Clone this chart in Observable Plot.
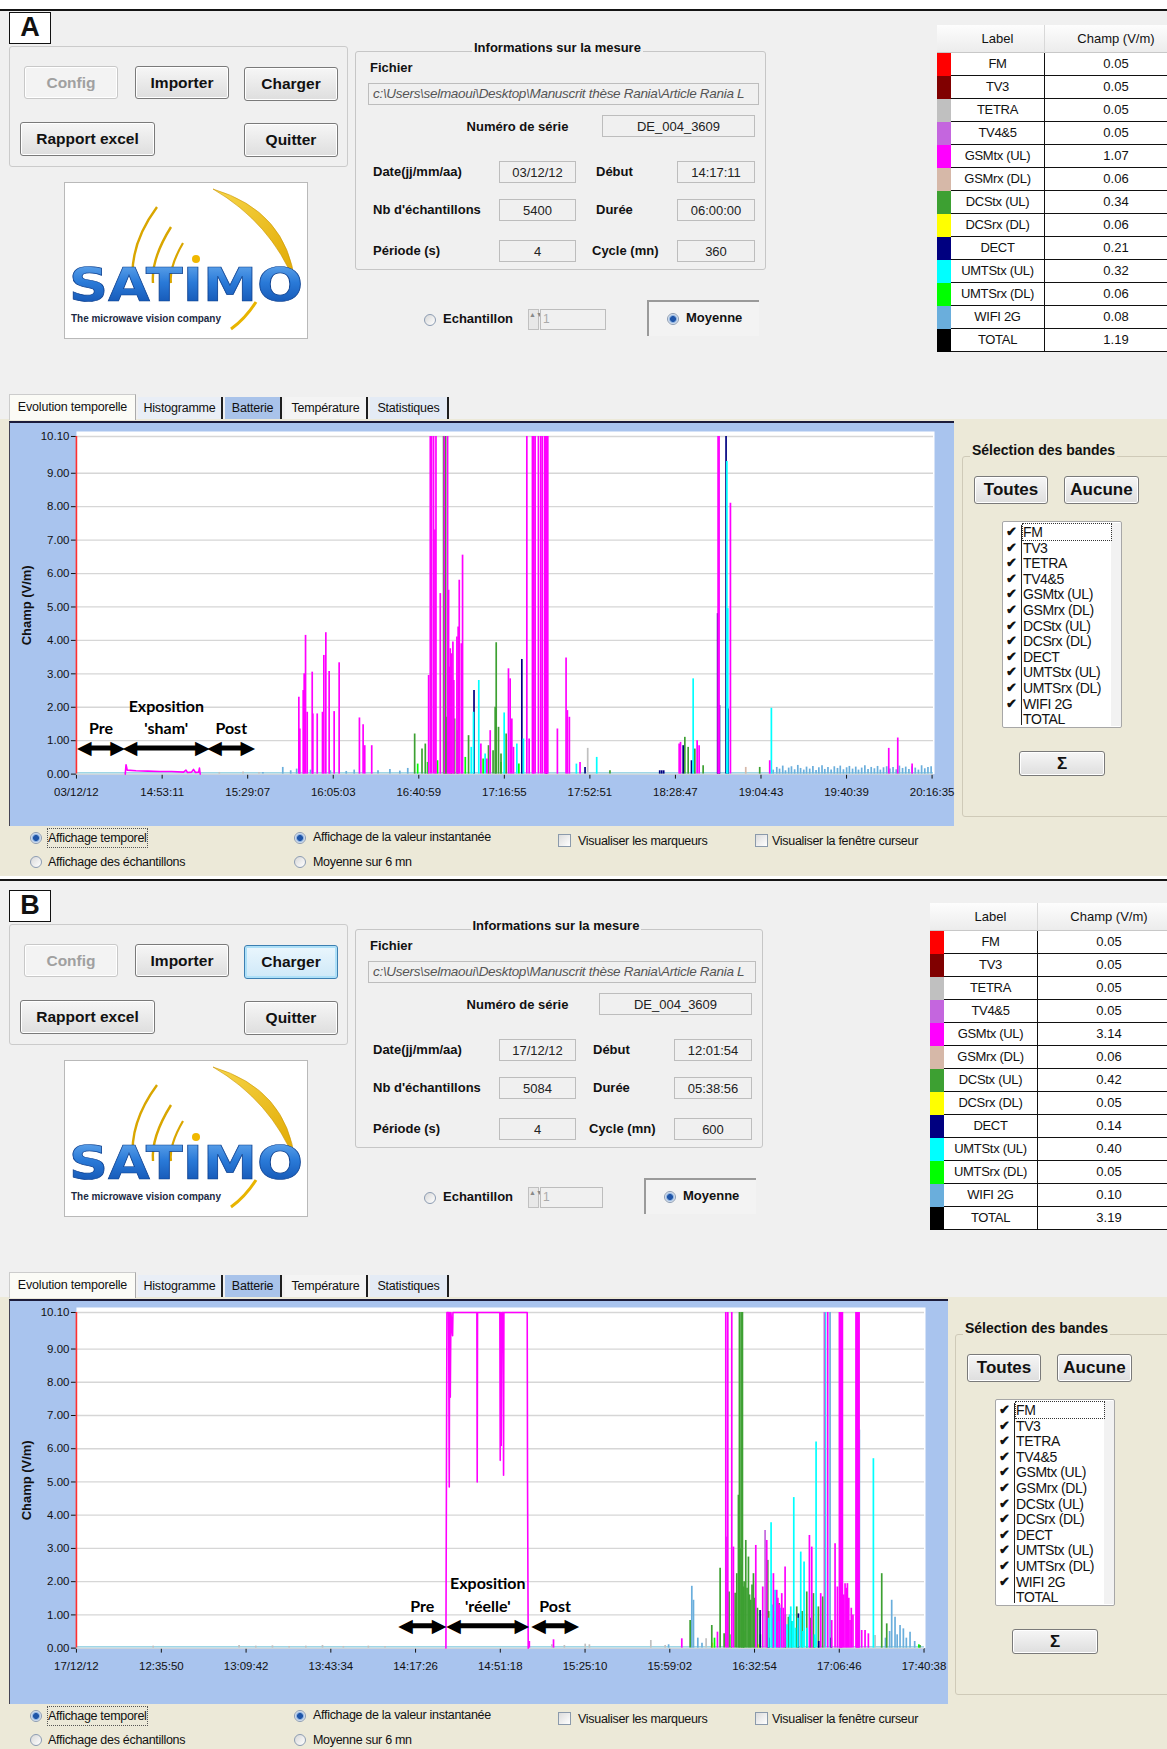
<!DOCTYPE html>
<html><head><meta charset="utf-8">
<script src="https://cdn.jsdelivr.net/npm/d3@7"></script>
<script src="https://cdn.jsdelivr.net/npm/@observablehq/plot@0.6"></script>
<style>
body{margin:0;background:#fff;font-family:"Liberation Sans",Arial,sans-serif;color:#111;}
#root{position:relative;width:1167px;height:1749px;overflow:hidden;background:#fff;}
.abs{position:absolute;box-sizing:border-box;white-space:nowrap;}
.btn{border:1px solid #7a7a7a;border-radius:3px;background:linear-gradient(#f6f6f6,#dedede);font-weight:bold;font-size:15.5px;display:flex;align-items:center;justify-content:center;color:#111;box-shadow:inset 0 0 0 1px #fff;}
.fld{border:1px solid #bdbdbd;background:#f0f0f0;font-size:13px;display:flex;align-items:center;justify-content:center;color:#222;}
.lbl{font-weight:bold;font-size:13px;}
</style>
</head><body><div id="root"></div>
<script>
// ---------- data ----------
const bandKeys   = ["FM","TV3","TETRA","TV45","GSMtx","GSMrx","DCStx","DCSrx","DECT","UMTStx","UMTSrx","WIFI","TOTAL"];
const bandLabels = ["FM","TV3","TETRA","TV4&5","GSMtx (UL)","GSMrx (DL)","DCStx (UL)","DCSrx (DL)","DECT","UMTStx (UL)","UMTSrx (DL)","WIFI 2G","TOTAL"];
const bandColors = ["#ff0000","#800000","#c0c0c0","#c466de","#ff00ff","#d6b8a8","#3da032","#ffff00","#000080","#00ffff","#00ff00","#6aaedc","#000000"];
const champA = ["0.05","0.05","0.05","0.05","1.07","0.06","0.34","0.06","0.21","0.32","0.06","0.08","1.19"];
const champB = ["0.05","0.05","0.05","0.05","3.14","0.06","0.42","0.05","0.14","0.40","0.05","0.10","3.19"];

const fieldLabels = ["Date(jj/mm/aa)","Début","Nb d'échantillons","Durée","Période (s)","Cycle (mn)"];
const fieldsA = ["03/12/12","14:17:11","5400","06:00:00","4","360"];
const fieldsB = ["17/12/12","12:01:54","5084","05:38:56","4","600"];
const serialNo = "DE_004_3609";
const filePath = "c:\\Users\\selmaoui\\Desktop\\Manuscrit thèse Rania\\Article Rania L";

const tickLabelsA = ["03/12/12","14:53:11","15:29:07","16:05:03","16:40:59","17:16:55","17:52:51","18:28:47","19:04:43","19:40:39","20:16:35"];
const tickLabelsB = ["17/12/12","12:35:50","13:09:42","13:43:34","14:17:26","14:51:18","15:25:10","15:59:02","16:32:54","17:06:46","17:40:38"];
const yTicks = [0,1,2,3,4,5,6,7,8,9,10.1];

// spikes: [seconds since start, V/m]
const gsmtxA = [[5605,2.3],[5630,1.35],[5715,2.5],[5740,3.0],[5774,4.15],[5816,1.85],[5942,3.05],[5958,1.8],[6068,1.8],[6201,1.85],[6235,3.55],[6285,4.23],[6369,3.07],[6495,1.87],[6621,3.33],[7132,1.68],[7225,1.48],[7266,0.85],[7442,0.85],[8876,2.95],[8918,10.1],[8951,10.1],[9001,10.1],[9036,7.3],[9061,10.1],[9170,5.4],[9270,10.1],[9354,10.1],[9379,5.5],[9400,3.2],[9421,3.75],[9450,3.6],[9488,3.95],[9510,2.8],[9589,4.1],[9620,4.4],[9648,5.8],[9700,3.9],[9731,6.55],[10193,0.9],[10344,0.45],[10428,1.3],[10888,3.15],[10931,2.85],[10973,1.65],[11014,0.8],[11351,10.1],[11409,1.05],[11492,10.1],[11510,10.1],[11527,10.1],[11560,10.1],[11643,10.1],[11703,10.1],[11744,10.1],[11804,10.1],[11820,10.1],[11837,10.1],[11858,10.1],[11879,10.1],[12121,1.35],[12340,3.47],[12373,1.9],[12423,1.7],[12692,0.35],[15190,0.9],[15224,0.95],[15643,1.0],[15693,0.85],[16171,10.1],[16196,10.1],[16482,8.1],[17472,0.4],[20472,0.77],[20699,1.08],[21061,0.3]];
const dcstxA = [[8524,1.2],[8709,0.75],[8792,0.9],[9253,10.1],[9287,10.1],[9304,10.1],[9330,1.7],[9450,1.6],[9530,1.65],[9600,1.3],[9882,1.15],[10385,0.85],[10500,0.7],[10553,2.0],[10579,3.93],[10637,1.4],[10700,0.6],[10830,1.2],[13446,0.1],[15333,1.1],[15417,0.8],[15585,0.75],[15794,0.25],[17220,0.2]];
const umtsrxA = [[8600,0.3],[8850,0.35],[9100,0.4],[9800,0.5],[10250,0.45],[10700,0.35],[11150,0.3]];
const umtstxA = [[9950,0.8],[10007,1.85],[10140,2.8],[10300,0.6],[10780,1.83],[11099,0.9],[11266,1.05],[12600,0.3],[13112,0.5],[15543,2.85],[16392,9.35],[16415,4.95],[17514,1.97]];
const dectA = [[10020,2.5],[11225,3.43],[11845,1.9],[12818,0.2],[14700,0.1],[14750,0.1],[14800,0.1],[15291,0.85],[15501,0.4],[16160,4.8],[16205,2.05],[16372,10.1],[16425,1.95]];
const tetraA = [[3600,0.05],[4200,0.06],[4600,0.05],[12885,0.77]];
const gsmrxA = [[16868,0.2]];
const wifiA = [[4700,0.05],[5200,0.2],[5400,0.1],[5550,0.15],[5900,0.12],[6400,0.1],[6800,0.08],[7000,0.12],[7600,0.1],[7900,0.14],[8150,0.09],[8350,0.17],[17560,0.12],[17650,0.2],[17720,0.15],[17800,0.24],[17870,0.1],[17950,0.18],[18020,0.22],[18100,0.13],[18180,0.26],[18250,0.17],[18330,0.12],[18400,0.21],[18480,0.15],[18560,0.23],[18640,0.11],[18710,0.19],[18790,0.25],[18860,0.14],[18940,0.2],[19020,0.12],[19100,0.22],[19180,0.17],[19250,0.24],[19330,0.13],[19410,0.19],[19480,0.23],[19560,0.15],[19640,0.21],[19710,0.12],[19790,0.18],[19870,0.25],[19950,0.14],[20030,0.2],[20110,0.16],[20190,0.23],[20260,0.12],[20340,0.19],[20420,0.22],[20500,0.15],[20580,0.2],[20660,0.13],[20740,0.24],[20820,0.17],[20900,0.21],[20980,0.14],[21060,0.22],[21140,0.18],[21220,0.12],[21300,0.25],[21380,0.16],[21460,0.2],[21540,0.22]];
const shamA = [[1230,0],[1250,0.28],[1280,0.12],[1500,0.1],[1800,0.09],[2100,0.08],[2400,0.08],[2700,0.06],[2760,0.12],[2800,0.05],[2900,0.06],[2950,0.14],[3000,0.05],[3080,0.06],[3100,0.18],[3120,0]];

const gsmtxB = [[10860,0.2],[11440,0.25],[14516,0.28],[15371,0.48],[15571,10.1],[15619,10.1],[15714,10.1],[15754,3.04],[16290,3.09],[16457,1.84],[16553,3.24],[16713,2.24],[16793,1.74],[16820,1.5],[16860,1.3],[16913,1.64],[16950,1.2],[16993,2.44],[17576,3.39],[17632,3.04],[17847,1.64],[18015,10.1],[18111,0.83],[18191,3.14],[18247,1.84],[18295,10.1],[18307,10.1],[18319,10.1],[18331,10.1],[18343,10.1],[18355,10.1],[18367,10.1],[18400,1.6],[18431,1.94],[18460,1.8],[18487,1.94],[18520,1.5],[18550,0.83],[18580,1.2],[18620,1.0],[18694,10.1],[18706,10.1],[18718,10.1],[18730,10.1],[18742,10.1],[18754,10.1],[18766,10.1],[18830,0.53],[18910,0.53],[18990,0.43]];
const tv45B = [[15595,3.34],[16513,3.54],[17935,10.1]];
const dcstxB = [[14716,0.83],[15235,0.68],[15435,2.4],[15531,0.43],[15650,1.69],[15794,1.65],[15834,2.24],[15874,4.6],[15898,10.1],[15910,3.0],[15938,10.1],[15955,2.5],[15970,10.1],[15994,1.84],[16010,2.0],[16050,3.24],[16080,1.8],[16114,2.74],[16140,1.6],[16170,1.44],[16200,1.9],[16234,2.24],[16260,1.5],[16330,1.2],[16577,2.64],[16600,1.1],[16700,0.9],[16849,1.34],[17000,1.0],[17073,0.93],[17150,0.8],[17272,1.24],[17400,1.1],[17512,1.69],[17600,0.9],[17672,1.64],[17791,1.24],[17895,1.54],[19310,2.24],[19430,0.73],[20228,0.08]];
const umtstxB = [[16600,0.9],[16657,3.77],[16680,1.3],[16720,1.1],[16753,1.74],[16780,1.0],[16830,0.8],[16880,1.2],[16960,0.9],[17040,0.7],[17100,1.0],[17129,1.24],[17170,0.8],[17201,4.53],[17240,0.6],[17300,0.9],[17368,2.89],[17420,0.5],[17448,2.59],[17520,0.6],[17700,0.4],[17736,6.2],[17959,10.1],[19110,5.7]];
const dectB = [[16393,1.13],[16600,0.3],[17312,1.03],[17800,0.2],[18100,0.3]];
const wifiB = [[14200,0.1],[14756,1.86],[14796,1.44],[14900,0.3],[15000,0.15],[18071,10.1],[18774,6.56],[19400,0.3],[19500,0.5],[19549,1.44],[19629,0.93],[19680,0.4],[19749,0.68],[19829,0.58],[19900,0.3],[19989,0.48],[20100,0.2]];
const tetraB = [[1840,0.06],[3900,0.08],[4300,0.06],[4700,0.07],[5100,0.05],[5500,0.06],[5900,0.08],[6400,0.05],[7000,0.06],[7400,0.05],[11400,0.1],[11700,0.08],[12200,0.12],[12300,0.1],[13773,0.23],[14117,0.08],[15099,0.28],[19150,0.38]];
const umtsrxB = [[15300,0.3],[15700,0.4],[16000,0.5],[16400,0.4],[17000,0.3],[17700,0.3],[20200,0.1]];
const dcsrxB = [[15250,0.15],[16350,0.1]];
const expoB = [[8860,0],[8884,10.1],[8924,10.1],[8940,4.85],[8948,10.1],[8964,7.55],[8980,10.1],[9020,9.4],[9028,10.1],[9602,10.1],[9610,5.0],[9618,10.1],[10153,10.1],[10162,5.65],[10170,10.1],[10186,6.1],[10202,10.1],[10234,10.1],[10242,5.2],[10250,10.1],[10809,10.1],[10817,4.97],[10833,0]];

const periodsA = [{label:"Pre",t1:63,t2:1170},{label:"Exposition\n'sham'",t1:1220,t2:3308},{label:"Post",t1:3349,t2:4455}];
const periodsB = [{label:"Pre",t1:7765,t2:8820},{label:"Exposition\n'réelle'",t1:8916,t2:10809},{label:"Post",t1:10953,t2:12007}];

// ---------- helpers ----------
const root = document.getElementById("root");
function add(x,y,w,h,css="",text=null,parent=root){
  const d=document.createElement("div");d.className="abs";
  d.style.cssText=`left:${x}px;top:${y}px;`+(w!=null?`width:${w}px;`:"")+(h!=null?`height:${h}px;`:"")+css;
  if(text!=null)d.textContent=text;parent.appendChild(d);return d;
}
function lbl(x,yc,text,css="",parent=root){return add(x,yc-9,null,18,"line-height:18px;"+css,text,parent);}
function toSec(s){const p=s.split(":").map(Number);return p[0]*3600+p[1]*60+p[2];}
function radio(x,yc,on){add(x-6,yc-6,12,12,"border-radius:50%;border:1px solid #8c9cb2;background:"+(on?"radial-gradient(circle,#1f55a8 0 2.6px,#7fa6d8 3.2px,#eef3fa 5px)":"linear-gradient(135deg,#d8d8d8,#fff)"));}
function checkbox(x,yc){add(x,yc-7,13,13,"border:1px solid #8b9aab;background:linear-gradient(135deg,#dcdcdc,#fff)");}

function drawChart(cfg){
  const ticks=cfg.tickLabels.map((l,i)=>i===0?0:toSec(l)-toSec(cfg.start));
  const spikes=[];
  for(const [key,arr] of cfg.spikeSets) for(const [t,v] of arr) spikes.push({t,v,band:key});
  const av=cfg.arrowV;
  return Plot.plot({
    width:cfg.width,height:405,
    marginLeft:67,marginRight:cfg.mr,marginTop:cfg.mt,marginBottom:cfg.mb,
    style:{background:"transparent",fontFamily:"'Liberation Sans',Arial,sans-serif",fontSize:"11.5px",color:"#111",overflow:"visible"},
    x:{domain:[0,cfg.duration],ticks,tickFormat:d=>cfg.tickLabels[ticks.indexOf(d)],tickSize:5,tickPadding:9,label:null},
    y:{domain:[0,10.1],ticks:yTicks,tickFormat:d=>d.toFixed(2),tickSize:5,tickPadding:2,label:null},
    color:{domain:bandKeys,range:bandColors},
    marks:[
      Plot.frame({fill:"white",stroke:"none",insetTop:-5,insetRight:-1}),
      Plot.ruleY(yTicks,{stroke:"#d6d6d6",strokeWidth:1.3}),
      Plot.ruleY([0.04],{stroke:"#9fd6e6",strokeWidth:1.6}),
      Plot.ruleX(spikes,{x:"t",y1:()=>0,y2:"v",stroke:"band",strokeWidth:1.7}),
      ...cfg.lines.map(([key,arr])=>Plot.line(arr,{x:d=>d[0],y:d=>d[1],stroke:()=>key,strokeWidth:1.6})),
      Plot.ruleX([0],{stroke:"#ff3030",strokeWidth:1.6}),
      Plot.arrow(cfg.periods,{x1:"t1",x2:"t2",y1:()=>av,y2:()=>av,headLength:0,insetStart:9,insetEnd:9,strokeWidth:5,stroke:"black"}),
      Plot.text(cfg.periods,{x:"t1",y:()=>av,text:()=>"◀",textAnchor:"start",fontSize:19,dx:-2,fill:"black",fontFamily:"DejaVu Sans"}),
      Plot.text(cfg.periods,{x:"t2",y:()=>av,text:()=>"▶",textAnchor:"end",fontSize:19,dx:2,fill:"black",fontFamily:"DejaVu Sans"}),
      Plot.text(cfg.periods,{x:d=>(d.t1+d.t2)/2,y:()=>av,text:"label",lineAnchor:"bottom",dy:-14,fontSize:16,fontWeight:"bold",fontFamily:"Lato",lineHeight:1.4,fill:"black"}),
      Plot.text(["Champ (V/m)"],{frameAnchor:"left",text:d=>d,rotate:-90,dx:-50,textAnchor:"middle",fontWeight:"bold",fontSize:13,fill:"#111"})
    ]
  });
}

function logo(x,y){
  const d=add(x,y,244,157,"background:#fff;border:1px solid #b9b9b9");
  d.innerHTML=`<svg width="242" height="155" viewBox="0 0 242 155">
  <defs><linearGradient id="lg${y}" x1="0" y1="0" x2="0" y2="1"><stop offset="0" stop-color="#6fb0f0"/><stop offset="0.45" stop-color="#2a7ad8"/><stop offset="1" stop-color="#0d4aa8"/></linearGradient>
  <linearGradient id="yg${y}" x1="0" y1="0" x2="1" y2="1"><stop offset="0" stop-color="#f7d64a"/><stop offset="1" stop-color="#e0a800"/></linearGradient></defs>
  <path d="M148,6 Q222,28 230,100 Q206,40 148,6Z" fill="url(#yg${y})" stroke="#c99400" stroke-width="0.6"/>
  <path d="M92,24 Q64,62 68,100" fill="none" stroke="#d9a600" stroke-width="2.4"/>
  <path d="M106,44 Q86,76 88,100" fill="none" stroke="#d9a600" stroke-width="2.4"/>
  <path d="M118,60 Q104,84 106,100" fill="none" stroke="#d9a600" stroke-width="2.2"/>
  <circle cx="131" cy="76" r="4" fill="#f0b800"/>
  <text x="4" y="118" font-family="DejaVu Sans" font-weight="bold" font-size="46" textLength="234" lengthAdjust="spacingAndGlyphs" fill="url(#lg${y})" stroke="#0b3f8f" stroke-width="0.7">SATIMO</text>
  <path d="M166,146 Q180,136 191,119" fill="none" stroke="#e8b400" stroke-width="3"/>
  <text x="6" y="139" font-family="Liberation Sans" font-weight="bold" font-size="11" textLength="150" lengthAdjust="spacingAndGlyphs" fill="#1c2a44">The microwave vision company</text>
  </svg>`;
}

function buildPanel(oy,P){
  const Y=v=>oy+v, dx=P.dx, di=Math.round(P.dx/2);
  add(0,Y(P.lineRel+2),1167,419-(P.lineRel+2),"background:#f0f0f0");
  add(0,Y(419),1167,457,"background:#ece9d8");
  add(0,Y(P.lineRel),1167,2,"background:#151515");
  add(9,Y(12),42,32,"border:1.5px solid #111;background:#fff;font:bold 27px 'Liberation Sans';text-align:center;line-height:29px",P.letter);
  add(9,Y(46),339,121,"border:1px solid #cbcbcb;border-radius:3px");
  const names=[["Config",24,66,94,33],["Importer",135,66,94,33],["Charger",244,67,94,34],["Rapport excel",20,122,135,34],["Quitter",244,123,94,34]];
  names.forEach(([n,x,y,w,h],i)=>{const b=add(x,Y(y),w,h,"",n);b.className="abs btn";
    if(i===0){b.style.color="#a0a0a0";b.style.borderColor="#c8c8c8";b.style.background="#f3f3f3";}
    if(i===2&&P.chargerFocus){b.style.borderColor="#3c7fb1";b.style.boxShadow="inset 0 0 0 2px #aee0f8";b.style.background="linear-gradient(#eaf6fd,#cfe9f8)";}});
  logo(64,Y(182));
  add(355,Y(51),411+di,219,"border:1px solid #c6c6c6;border-radius:3px");
  lbl(472+di/2,Y(48),"Informations sur la mesure","background:#f0f0f0;padding:0 2px;").className="abs lbl";
  lbl(370,Y(68),"Fichier").className="abs lbl";
  add(368,Y(83),391+di,22,"border:1px solid #bdbdbd;background:#f0f0f0;font-style:italic;font-size:13.5px;color:#555;line-height:20px;padding-left:4px;overflow:hidden;letter-spacing:-0.3px",filePath);
  const ns=lbl(440,Y(127),"Numéro de série","width:155px;text-align:center");ns.className="abs lbl";
  add(602+di,Y(115),153,22,"",serialNo).className="abs fld";
  const rows=[172,210,251];
  rows.forEach((yc,r)=>{
    lbl(373,Y(yc),fieldLabels[2*r]).className="abs lbl";
    add(499,Y(yc-11),77,22,"",P.fields[2*r]).className="abs fld";
    lbl(r===2?592+di:596+di,Y(yc),fieldLabels[2*r+1]).className="abs lbl";
    add(677+di,Y(yc-11),78,22,"",P.fields[2*r+1]).className="abs fld";
  });
  radio(430,Y(320),false);
  lbl(443,Y(319),"Echantillon").className="abs lbl";
  add(528,Y(309),11,21,"border:1px solid #c0c0c0;background:#e8e8e8;font-size:7px;line-height:10px;text-align:center;color:#888","▲▼");
  add(540,Y(309),66+di,21,"border:1px solid #bdbdbd;background:#f0f0f0;font-size:12px;color:#aaa;line-height:19px;padding-left:2px","1");
  add(647+di,Y(300),112,36,"border-top:2px solid #9a9a9a;border-left:2px solid #9a9a9a;background:#f3f3f3");
  radio(673+di,Y(319),true);
  lbl(686+di,Y(318),"Moyenne").className="abs lbl";
  const tx=937+dx;
  add(tx,Y(25),1167-tx,327,"border-top:1px solid #a0a0a0;border-left:1px solid #a0a0a0;background:#fff");
  add(tx,Y(25),1167-tx,28,"background:linear-gradient(#fdfdfd,#ececec);border-bottom:1px solid #c8c8c8");
  add(tx+14,Y(25),94,28,"text-align:center;line-height:28px;font-size:13px;border-right:1px solid #d8d8d8","Label");
  add(tx+108,Y(25),142,28,"text-align:center;line-height:28px;font-size:13px","Champ (V/m)");
  bandLabels.forEach((b,i)=>{
    const ry=Y(53+i*23);
    add(tx,ry,14,23,"background:"+bandColors[i]);
    add(tx+14,ry,94,23,"border-bottom:1px solid #111;border-right:1.5px solid #111;text-align:center;line-height:22px;font-size:13px;letter-spacing:-0.3px",b);
    add(tx+108,ry,142,23,"border-bottom:1px solid #111;text-align:center;line-height:22px;font-size:13px",P.champ[i]);
  });
  const tabs=[["Evolution temporelle",9,127,"#fbfbf6"],["Histogramme",138,85,"#e9eef6"],["Batterie",225,57,"#a9c3ea"],["Température",285,83,"#f4f4f4"],["Statistiques",370,79,"#e4ebf5"]];
  tabs.forEach(([t,x,w,bg],i)=>{
    add(x,Y(i===0?394:397),w,i===0?26:22,`background:${bg};border-right:2px solid #1e1e1e;font-size:12.5px;text-align:center;line-height:${i===0?24:22}px;letter-spacing:-0.2px;`+(i===0?"border-top:1px solid #ccc;border-left:1px solid #ccc;border-right:1px solid #aaa;":""),t);
  });
  const frame=add(9,Y(421),P.chartW,405,"background:#a9c4ee;border-top:2px solid #1c1c3a;border-left:1px solid #445");
  const svg=drawChart(P.chart);
  svg.style.position="absolute";svg.style.left="-1px";svg.style.top="-2px";
  frame.appendChild(svg);
  add(962+dx,Y(456),215,361,"border:1px solid #cfcab8;border-radius:3px");
  lbl(970+dx,Y(450),"Sélection des bandes","background:#ece9d8;padding:0 2px;font-size:14px;font-weight:bold");
  add(974+dx,Y(476),74,28,"font-size:17px","Toutes").className="abs btn";
  add(1064+dx,Y(476),75,28,"font-size:17px","Aucune").className="abs btn";
  const lb=add(1002+dx,Y(521),120,207,"border:1px solid #a7a7a7;background:#fff;border-radius:2px");
  add(18,3,1,200,"background:#222",null,lb);
  add(108,1,10,203,"background:#f2f2f2",null,lb);
  bandLabels.forEach((b,i)=>{
    if(i<12) add(3,2+i*15.6,14,16,"font-size:13px;line-height:16px;font-weight:bold","✔",lb);
    add(20,2+i*15.6,null,16,"font-size:14px;line-height:16px;letter-spacing:-0.4px;"+(i===0?"outline:1px dotted #333;width:88px;":""),b,lb);
  });
  add(1019+dx,Y(751),86,25,"font-size:17px","Σ").className="abs btn";
  radio(36,Y(838),true); lbl(48,Y(838),"Affichage temporel","font-size:12.5px;outline:1px dotted #555;letter-spacing:-0.3px;");
  radio(36,Y(862),false); lbl(48,Y(862),"Affichage des échantillons","font-size:12.5px;letter-spacing:-0.3px");
  radio(300,Y(838),true); lbl(313,Y(837),"Affichage de la valeur instantanée","font-size:12.5px;letter-spacing:-0.3px");
  radio(300,Y(862),false); lbl(313,Y(862),"Moyenne sur 6 mn","font-size:12.5px;letter-spacing:-0.3px");
  checkbox(558,Y(841)); lbl(578,Y(841),"Visualiser les marqueurs","font-size:12.5px;letter-spacing:-0.3px");
  checkbox(755,Y(841)); lbl(772,Y(841),"Visualiser la fenêtre curseur","font-size:12.5px;letter-spacing:-0.3px");
}

buildPanel(0,{letter:"A",lineRel:9,dx:0,chartW:945,fields:fieldsA,champ:champA,chargerFocus:false,
  chart:{width:945,mr:20,mt:15,mb:52,start:fieldsA[1],duration:toSec(fieldsA[3]),tickLabels:tickLabelsA,arrowV:0.78,periods:periodsA,
    spikeSets:[["WIFI",wifiA],["TETRA",tetraA],["GSMrx",gsmrxA],["UMTSrx",umtsrxA],["DCStx",dcstxA],["DECT",dectA],["UMTStx",umtstxA],["GSMtx",gsmtxA]],
    lines:[["GSMtx",shamA]]}});
buildPanel(878,{letter:"B",lineRel:1,dx:-7,chartW:939,fields:fieldsB,champ:champB,chargerFocus:true,
  chart:{width:939,mr:23,mt:13,mb:56,start:fieldsB[1],duration:toSec(fieldsB[3]),tickLabels:tickLabelsB,arrowV:0.67,periods:periodsB,
    spikeSets:[["WIFI",wifiB],["TETRA",tetraB],["DCSrx",dcsrxB],["UMTSrx",umtsrxB],["DCStx",dcstxB],["DECT",dectB],["UMTStx",umtstxB],["TV45",tv45B],["GSMtx",gsmtxB]],
    lines:[["GSMtx",expoB]]}});
</script></body></html>
